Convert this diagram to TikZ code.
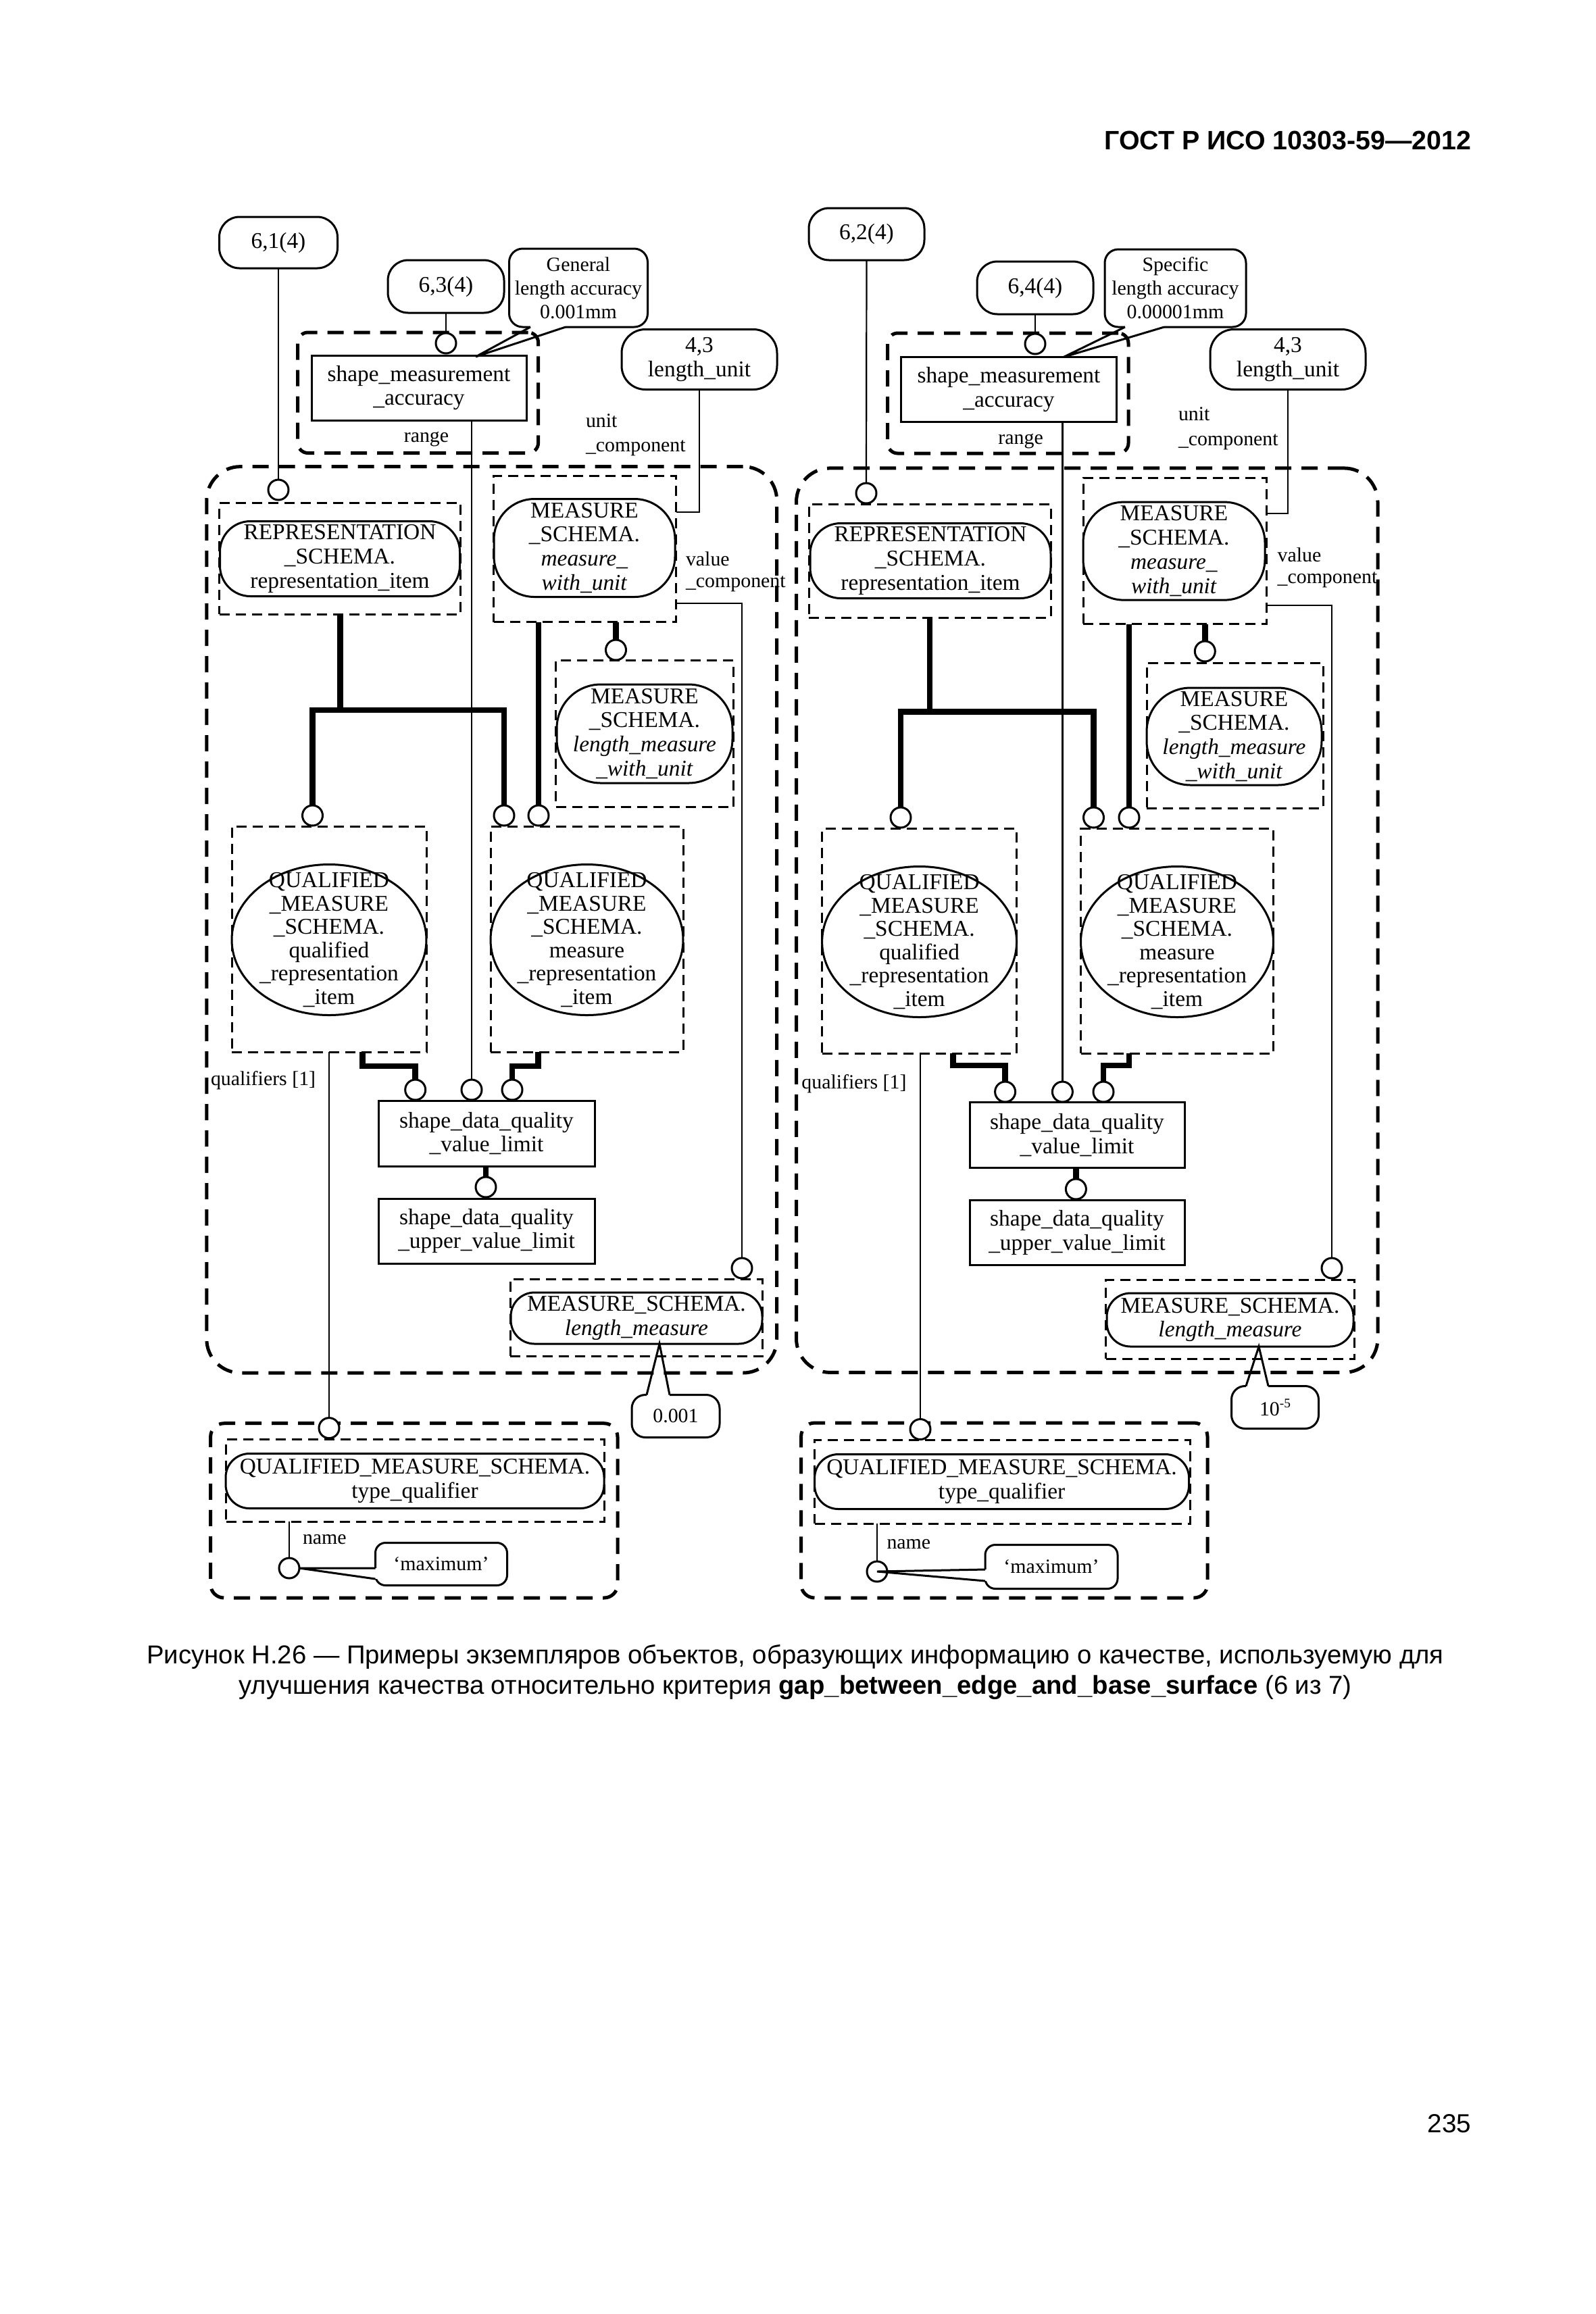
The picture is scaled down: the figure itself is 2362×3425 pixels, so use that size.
\documentclass[tikz,border=0pt]{standalone}
\usepackage{fontspec}
\setmainfont{Liberation Serif}
\newfontfamily\arialfont{Liberation Sans}
\usetikzlibrary{shapes.geometric,calc}
\begin{document}
\begin{tikzpicture}[x=0.1mm,y=-0.1mm,
  every node/.style={inner sep=0pt,outer sep=0pt,align=center},
  txt/.style={font=\fontsize{9.5}{10.2}\selectfont},
  small/.style={font=\fontsize{8.5}{10}\selectfont},
  qtxt/.style={font=\fontsize{9.5}{9.8}\selectfont},
  sbox/.style={draw,line width=0.3mm,fill=white,txt},
  ell/.style={ellipse,draw,line width=0.3mm,fill=white},
  circ/.style={circle,draw,fill=white,line width=0.3mm,minimum size=3mm},
  tdash/.style={draw,line width=0.3mm,dash pattern=on 1.5mm off 0.9mm},
  bdash/.style={draw,line width=0.5mm,dash pattern=on 2.4mm off 1.5mm},
  conn/.style={line width=0.22mm},
  tconn/.style={line width=0.85mm},
  pline/.style={line width=0.3mm},
]
\useasboundingbox (0,0) rectangle (2362,3425);

% ---------- page texts
\node[anchor=east,font=\arialfont\bfseries\fontsize{11.2}{13}\selectfont] (hdr) at (2177,208) {ГОСТ Р ИСО 10303-59—2012};
\node[anchor=east,font=\arialfont\fontsize{11}{13}\selectfont] (pg) at (2177,3143) {235};
\node[font=\arialfont\fontsize{10.9}{12.8}\selectfont] (cap) at (1177,2475) {Рисунок Н.26 — Примеры экземпляров объектов, образующих информацию о качестве, используемую для\\улучшения качества относительно критерия \textbf{gap\_between\_edge\_and\_base\_surface} (6 из 7)};

% =================== LEFT PANEL ===================
\node[bdash,rounded corners=5mm,minimum width=84.39mm,minimum height=134.14mm] (bigL) at (727.75,1361.3) {};
\node[bdash,rounded corners=1.5mm,minimum width=35.59mm,minimum height=17.85mm] (smaDL) at (618.65,581.25) {};
\node[bdash,rounded corners=2mm,minimum width=60.24mm,minimum height=25.83mm] (botL) at (612.8,2235.85) {};
\node[tdash,minimum width=35.7mm,minimum height=16.5mm] (reprDL) at (503.3,826.5) {};
\node[tdash,minimum width=26.99mm,minimum height=21.65mm] (mwuDL) at (865.55,812.25) {};
\node[tdash,minimum width=26.29mm,minimum height=21.69mm] (lmwuDL) at (953.95,1086.15) {};
\node[tdash,minimum width=28.8mm,minimum height=33.4mm] (qrDL) at (487,1390) {};
\node[tdash,minimum width=28.5mm,minimum height=33.4mm] (mrDL) at (868.5,1390) {};
\node[tdash,minimum width=37.35mm,minimum height=11.33mm] (lmDL) at (941.75,1950.35) {};
\node[tdash,minimum width=55.95mm,minimum height=12.13mm] (tqDL) at (614.25,2191.35) {};

\node[sbox,rounded corners=3mm,minimum width=17.5mm,minimum height=7.6mm] (o61) at (412,359) {6,1(4)};
\node[sbox,rounded corners=3mm,minimum width=17.2mm,minimum height=7.8mm] (o63) at (660,424) {6,3(4)};
\node[sbox,small,rounded corners=2mm,minimum width=20.5mm,minimum height=11.6mm] (cgL) at (856,426) {General\\length accuracy\\0.001mm};
\node[sbox,minimum width=31.8mm,minimum height=9.6mm] (smaL) at (620,574) {shape\_measurement\\\_accuracy};
\node[sbox,rounded corners=3.5mm,minimum width=23mm,minimum height=8.9mm] (luL) at (1035,532) {4,3\\length\_unit};
\node[sbox,rounded corners=4.5mm,minimum width=35.5mm,minimum height=11.1mm] (reprL) at (503,827) {REPRESENTATION\\\_SCHEMA.\\representation\_item};
\node[sbox,rounded corners=6mm,minimum width=26.8mm,minimum height=14.5mm] (mwuL) at (865,811) {MEASURE\\\_SCHEMA.\\\textit{measure\_}\\\textit{with\_unit}};
\node[sbox,rounded corners=6.5mm,minimum width=26mm,minimum height=14.6mm] (lmwuL) at (954,1086) {MEASURE\\\_SCHEMA.\\\textit{length\_measure}\\\textit{\_with\_unit}};
\node[ell,minimum width=28.8mm,minimum height=22.3mm] (qrL) at (487,1391) {};
\node[qtxt] (qrLt) at (qrL.center) {QUALIFIED\\\_MEASURE\\\_SCHEMA.\\qualified\\\_representation\\\_item};
\node[ell,minimum width=28.5mm,minimum height=22.3mm] (mrL) at (868.5,1391) {};
\node[qtxt] (mrLt) at (mrL.center) {QUALIFIED\\\_MEASURE\\\_SCHEMA.\\measure\\\_representation\\\_item};
\node[sbox,minimum width=32mm,minimum height=9.7mm] (vlL) at (720,1677.5) {shape\_data\_quality\\\_value\_limit};
\node[sbox,minimum width=32mm,minimum height=9.6mm] (uvlL) at (720,1822) {shape\_data\_quality\\\_upper\_value\_limit};
\node[sbox,rounded corners=3.5mm,minimum width=37.2mm,minimum height=7.6mm] (lmL) at (942,1951) {MEASURE\_SCHEMA.\\\textit{length\_measure}};
\node[sbox,small,rounded corners=2mm,minimum width=13mm,minimum height=6.3mm] (vL) at (1000,2096) {0.001};
\node[sbox,rounded corners=3.5mm,minimum width=56mm,minimum height=8.1mm] (tqL) at (614,2192) {QUALIFIED\_MEASURE\_SCHEMA.\\type\_qualifier};
\node[sbox,small,rounded corners=1.5mm,minimum width=19.5mm,minimum height=6.3mm] (maxL) at (653,2315) {‘maximum’};

\node[circ] (cA) at (412,725) {};
\node[circ] (cB) at (660,508) {};
\node[circ] (cC) at (911.5,962) {};
\node[circ] (cD) at (462.5,1207) {};
\node[circ] (cE) at (746,1207) {};
\node[circ] (cF) at (797,1207) {};
\node[circ] (cG) at (614.7,1613) {};
\node[circ] (cH) at (698,1613) {};
\node[circ] (cI) at (758,1613) {};
\node[circ] (cJ) at (719,1757) {};
\node[circ] (cK) at (1098,1877) {};
\node[circ] (cL) at (487,2113.6) {};
\node[circ] (cM) at (428,2321) {};

\node[small] (rangeL) at (631,650) {range};
\node[anchor=west,align=left,font=\fontsize{8.5}{10.2}\selectfont] (ucL) at (867,644) {unit\\\_component};
\node[anchor=west,align=left,font=\fontsize{8.5}{9}\selectfont] (vcL) at (1015,846) {value\\\_component};
\node[small,anchor=west] (qfL) at (312,1599.5) {qualifiers [1]};
\node[small,anchor=west] (nmL) at (448,2279) {name};

% connectors left
\draw[conn] (o61.south) -- (cA.north);
\draw[conn] (o63.south) -- (cB.north);
\draw[conn] (cH |- smaL.south) -- (cH.north);
\coordinate (kL1) at (1000.5,757.6);
\draw[conn] (luL.south) |- (kL1);
\coordinate (kL2) at (1000.5,893);
\draw[conn] (kL2) -| (cK.north);
\coordinate (jL) at (503.3,1051);
\draw[tconn] (reprDL.south) -- (jL);
\draw[tconn] (cD.north) |- (cE |- jL) -- (cE.north);
\draw[tconn] (cF |- mwuDL.south) -- (cF.north);
\draw[tconn] (cC |- mwuDL.south) -- (cC.north);
\coordinate (sL1) at (536.6,1578);
\draw[tconn] (sL1 |- qrDL.south) -- (sL1) -| (cG.north);
\coordinate (sL2) at (796.6,1578);
\draw[tconn] (sL2 |- mrDL.south) -- (sL2) -| (cI.north);
\draw[tconn] (cJ |- vlL.south) -- (cJ.north);
\draw[conn] (cL |- qrDL.south) -- (cL.north);
\draw[conn] (cM |- tqDL.south) -- (cM.north);

% callout pointers left
\coordinate (pLa) at ($(cgL.south)+(-71,0)$);
\coordinate (pLb) at ($(cgL.south)+(-19,0)$);
\coordinate (pLt) at ($(smaL.north)+(84,2)$);
\fill[white] ($(pLa)+(0,2.5)$) rectangle ($(pLb)+(0,-6)$);
\draw[pline] (pLa) -- (pLt) -- (pLb);
\coordinate (qLa) at ($(vL.north)+(-43,0)$);
\coordinate (qLb) at ($(vL.north)+(-9,0)$);
\coordinate (qLt) at ($(lmL.south)+(34,0)$);
\fill[white] ($(qLa)+(0,-2.5)$) rectangle ($(qLb)+(0,6)$);
\draw[pline] (qLa) -- (qLt) -- (qLb);
\coordinate (mLa) at ($(maxL.west)+(0,6)$);
\coordinate (mLb) at ($(maxL.west)+(0,22)$);
\fill[white] ($(mLa)+(-2.5,0)$) rectangle ($(mLb)+(6,0)$);
\draw[pline] (mLa) -- (cM.east) -- (mLb);

% =================== RIGHT PANEL ===================
\node[bdash,rounded corners=5mm,minimum width=86.05mm,minimum height=133.85mm] (bigR) at (1608.75,1362.15) {};
\node[bdash,rounded corners=1.5mm,minimum width=35.64mm,minimum height=17.8mm] (smaDR) at (1491.8,582) {};
\node[bdash,rounded corners=2mm,minimum width=60.14mm,minimum height=25.9mm] (botR) at (1486.3,2235.5) {};
\node[tdash,minimum width=35.8mm,minimum height=16.8mm] (reprDR) at (1376,830) {};
\node[tdash,minimum width=27.1mm,minimum height=21.66mm] (mwuDR) at (1738.5,815.3) {};
\node[tdash,minimum width=26.1mm,minimum height=21.54mm] (lmwuDR) at (1827.5,1088.7) {};
\node[tdash,minimum width=28.78mm,minimum height=33.26mm] (qrDR) at (1360.6,1393.1) {};
\node[tdash,minimum width=28.48mm,minimum height=33.26mm] (mrDR) at (1742.1,1393.1) {};
\node[tdash,minimum width=36.78mm,minimum height=11.66mm] (lmDR) at (1820.6,1952.7) {};
\node[tdash,minimum width=55.57mm,minimum height=12.33mm] (tqDR) at (1483.55,2193.35) {};

\node[sbox,rounded corners=3mm,minimum width=17.1mm,minimum height=7.7mm] (o62) at (1282.5,346.5) {6,2(4)};
\node[sbox,rounded corners=3mm,minimum width=17.2mm,minimum height=7.8mm] (o64) at (1532,426) {6,4(4)};
\node[sbox,small,rounded corners=2mm,minimum width=20.9mm,minimum height=11.5mm] (csR) at (1739.5,426.5) {Specific\\length accuracy\\0.00001mm};
\node[sbox,minimum width=31.9mm,minimum height=9.6mm] (smaR) at (1493,576.5) {shape\_measurement\\\_accuracy};
\node[sbox,rounded corners=3.5mm,minimum width=23mm,minimum height=8.9mm] (luR) at (1906,532) {4,3\\length\_unit};
\node[sbox,rounded corners=4.5mm,minimum width=35.6mm,minimum height=11.1mm] (reprR) at (1377,830) {REPRESENTATION\\\_SCHEMA.\\representation\_item};
\node[sbox,rounded corners=6mm,minimum width=26.9mm,minimum height=14.5mm] (mwuR) at (1737.5,815.6) {MEASURE\\\_SCHEMA.\\\textit{measure\_}\\\textit{with\_unit}};
\node[sbox,rounded corners=6.5mm,minimum width=25.9mm,minimum height=14.4mm] (lmwuR) at (1826.5,1090) {MEASURE\\\_SCHEMA.\\\textit{length\_measure}\\\textit{\_with\_unit}};
\node[ell,minimum width=28.8mm,minimum height=22.3mm] (qrR) at (1360.6,1394) {};
\node[qtxt] (qrRt) at (qrR.center) {QUALIFIED\\\_MEASURE\\\_SCHEMA.\\qualified\\\_representation\\\_item};
\node[ell,minimum width=28.5mm,minimum height=22.3mm] (mrR) at (1742,1394) {};
\node[qtxt] (mrRt) at (mrR.center) {QUALIFIED\\\_MEASURE\\\_SCHEMA.\\measure\\\_representation\\\_item};
\node[sbox,minimum width=31.8mm,minimum height=9.7mm] (vlR) at (1594,1680) {shape\_data\_quality\\\_value\_limit};
\node[sbox,minimum width=31.8mm,minimum height=9.6mm] (uvlR) at (1594,1824.6) {shape\_data\_quality\\\_upper\_value\_limit};
\node[sbox,rounded corners=3.5mm,minimum width=36.5mm,minimum height=7.9mm] (lmR) at (1820.5,1953.5) {MEASURE\_SCHEMA.\\\textit{length\_measure}};
\node[sbox,small,rounded corners=2mm,minimum width=12.9mm,minimum height=6.3mm] (vR) at (1887,2083) {10\raisebox{0.9ex}{\fontsize{5.5}{6}\selectfont -5}};
\node[sbox,rounded corners=3.5mm,minimum width=55.4mm,minimum height=8.1mm] (tqR) at (1482.6,2193) {QUALIFIED\_MEASURE\_SCHEMA.\\type\_qualifier};
\node[sbox,small,rounded corners=1.5mm,minimum width=19.6mm,minimum height=6.5mm] (maxR) at (1556,2319) {‘maximum’};

\node[circ] (dA) at (1282,730) {};
\node[circ] (dB) at (1532,509) {};
\node[circ] (dC) at (1783.3,964) {};
\node[circ] (dD) at (1333,1210) {};
\node[circ] (dE) at (1618.5,1210) {};
\node[circ] (dF) at (1671,1210) {};
\node[circ] (dG) at (1487.6,1616) {};
\node[circ] (dH) at (1572.4,1616) {};
\node[circ] (dI) at (1633,1616) {};
\node[circ] (dJ) at (1592.4,1760) {};
\node[circ] (dK) at (1971,1877) {};
\node[circ] (dL) at (1362,2115.5) {};
\node[circ] (dM) at (1298,2326) {};

\node[small] (rangeR) at (1510.6,652.7) {range};
\node[anchor=west,align=left,font=\fontsize{8.5}{10.5}\selectfont] (ucR) at (1744,634) {unit\\\_component};
\node[anchor=west,align=left,font=\fontsize{8.5}{9}\selectfont] (vcR) at (1890.6,840) {value\\\_component};
\node[small,anchor=west] (qfR) at (1186.4,1604) {qualifiers [1]};
\node[small,anchor=west] (nmR) at (1312.5,2285.7) {name};

% connectors right
\draw[conn] (o62.south) -- (dA.north);
\draw[conn] (o64.south) -- (dB.north);
\draw[conn] (dH |- smaR.south) -- (dH.north);
\coordinate (kR1) at (1874,760);
\draw[conn] (luR.south) |- (kR1);
\coordinate (kR2) at (1874,896);
\draw[conn] (kR2) -| (dK.north);
\coordinate (jR) at (1376,1053.6);
\draw[tconn] (reprDR.south) -- (jR);
\draw[tconn] (dD.north) |- (dE |- jR) -- (dE.north);
\draw[tconn] (dF |- mwuDR.south) -- (dF.north);
\draw[tconn] (dC |- mwuDR.south) -- (dC.north);
\coordinate (sR1) at (1410.6,1577);
\draw[tconn] (sR1 |- qrDR.south) -- (sR1) -| (dG.north);
\coordinate (sR2) at (1671,1577);
\draw[tconn] (sR2 |- mrDR.south) -- (sR2) -| (dI.north);
\draw[tconn] (dJ |- vlR.south) -- (dJ.north);
\draw[conn] (dL |- qrDR.south) -- (dL.north);
\draw[conn] (dM |- tqDR.south) -- (dM.north);

% callout pointers right
\coordinate (pRa) at ($(csR.south)+(-74.5,0)$);
\coordinate (pRb) at ($(csR.south)+(-16.5,0)$);
\coordinate (pRt) at ($(smaR.north)+(81,0)$);
\fill[white] ($(pRa)+(0,2.5)$) rectangle ($(pRb)+(0,-6)$);
\draw[pline] (pRa) -- (pRt) -- (pRb);
\coordinate (qRa) at ($(vR.north)+(-43,0)$);
\coordinate (qRb) at ($(vR.north)+(-10,0)$);
\coordinate (qRt) at ($(lmR.south)+(42.5,0)$);
\fill[white] ($(qRa)+(0,-2.5)$) rectangle ($(qRb)+(0,6)$);
\draw[pline] (qRa) -- (qRt) -- (qRb);
\coordinate (mRa) at ($(maxR.west)+(0,4)$);
\coordinate (mRb) at ($(maxR.west)+(0,21)$);
\fill[white] ($(mRa)+(-2.5,0)$) rectangle ($(mRb)+(6,0)$);
\draw[pline] (mRa) -- (dM.center) -- (mRb);
\end{tikzpicture}
\end{document}
